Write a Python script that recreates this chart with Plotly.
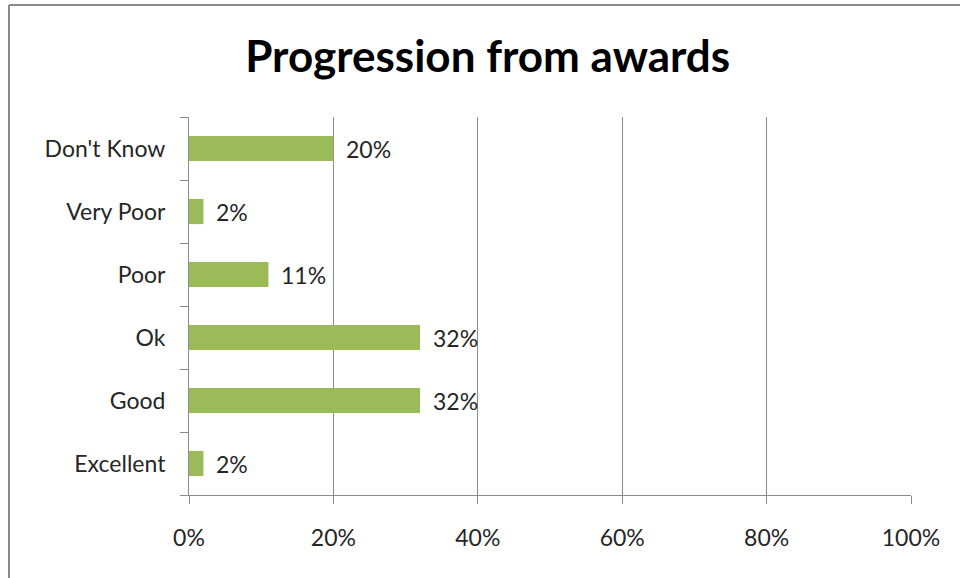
import plotly.graph_objects as go

# Survey responses: share of answers per rating
categories = ["Excellent", "Good", "Ok", "Poor", "Very Poor", "Don't Know"]
shares = [0.02, 0.32, 0.32, 0.11, 0.02, 0.20]
x_tick_values = [0, 0.2, 0.4, 0.6, 0.8, 1.0]
x_tick_labels = ["0%", "20%", "40%", "60%", "80%", "100%"]

W, H = 960, 578
L, R, T, B = 189, 49, 117, 83
pw, ph = W - L - R, H - T - B

def px_x(x):
    return (x - L) / pw

def px_y(y):
    return 1 - (y - T) / ph

font_family = "Lato, 'Open Sans', sans-serif"
text_color = "#262626"
grid_color = "#8c8c8c"
label_size = 23

fig = go.Figure(
    go.Bar(
        y=categories,
        x=shares,
        orientation="h",
        width=0.4,
        marker=dict(color="#9bbb59", line=dict(width=0)),
        hoverinfo="skip",
    )
)

for cat, v in zip(categories, shares):
    fig.add_annotation(
        x=v, y=cat, xref="x", yref="y",
        text=f"{round(v * 100)}%",
        showarrow=False, xanchor="left", xshift=11,
        font=dict(family=font_family, size=label_size, color=text_color),
    )

# Chart-area frame (top and left edges)
fig.add_shape(type="line", xref="paper", yref="paper",
              x0=px_x(9), x1=px_x(W + 5), y0=px_y(5), y1=px_y(5),
              line=dict(color="#8a8a8a", width=2))
fig.add_shape(type="line", xref="paper", yref="paper",
              x0=px_x(9), x1=px_x(9), y0=px_y(5), y1=px_y(H + 5),
              line=dict(color="#8a8a8a", width=2))

fig.update_layout(
    width=W, height=H,
    margin=dict(l=L, r=R, t=T, b=B, pad=0),
    paper_bgcolor="white", plot_bgcolor="white",
    showlegend=False,
    title=dict(
        text="<b>Progression from awards</b>",
        x=0.508, xanchor="center", y=1 - 57 / H, yanchor="middle",
        font=dict(family=font_family, size=44, color="black"),
    ),
    xaxis=dict(
        range=[0, 1],
        tickvals=x_tick_values, ticktext=x_tick_labels,
        showgrid=True, gridcolor=grid_color, gridwidth=1,
        zeroline=False,
        showline=True, linecolor=grid_color, linewidth=1,
        ticks="outside", ticklen=8, tickcolor=grid_color,
        tickfont=dict(family=font_family, size=label_size, color=text_color),
        ticklabelstandoff=14,
        fixedrange=True,
    ),
    yaxis=dict(
        categoryorder="array", categoryarray=categories,
        showgrid=False, zeroline=False,
        showline=True, linecolor=grid_color, linewidth=1,
        ticks="outside", ticklen=8, tickcolor=grid_color,
        tickson="boundaries",
        tickfont=dict(family=font_family, size=label_size, color=text_color),
        ticklabelstandoff=18,
        range=[-0.5, 5.5],
        fixedrange=True,
    ),
)

fig.write_html("out.html")
